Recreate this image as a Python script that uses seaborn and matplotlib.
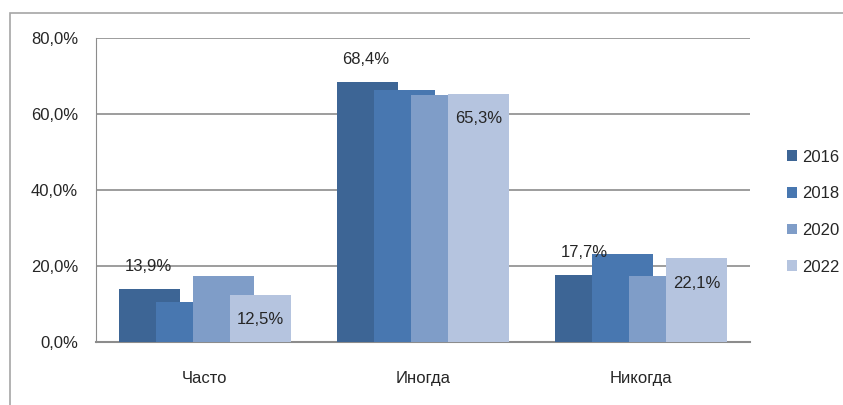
import pandas as pd
import matplotlib as mpl
import matplotlib.pyplot as plt
import seaborn as sns

mpl.rcParams['axes.unicode_minus'] = False

CATEGORIES = ['Часто', 'Иногда', 'Никогда']
YEARS = ['2016', '2018', '2020', '2022']
VALUES_2016 = [13.9, 68.4, 17.7]
VALUES_2018 = [10.5, 66.2, 23.1]
VALUES_2020 = [17.4, 65.1, 17.3]
VALUES_2022 = [12.5, 65.3, 22.1]
Y_TICKS = [0, 20, 40, 60, 80]

COLORS = ['#3d6595', '#4877b0', '#7f9dc8', '#b5c4df']

# настройки перекрытия столбцов (как в Excel)
BAR_WIDTH = 0.28
BAR_STEP = 0.17
GROUP_START = -0.395
FS = 12


def fmt(v):
    return f'{v:.1f}%'.replace('.', ',')


if __name__ == "__main__":
    rows = []
    for year, vals in zip(YEARS, [VALUES_2016, VALUES_2018, VALUES_2020, VALUES_2022]):
        for cat, v in zip(CATEGORIES, vals):
            rows.append({'cat': cat, 'year': year, 'value': v})
    df = pd.DataFrame(rows)

    sns.set_style('white')
    plt.rcParams['font.family'] = ['Liberation Sans', 'DejaVu Sans']

    fig = plt.figure(figsize=(8.43, 4.05), dpi=100)
    ax = fig.add_axes([96 / 843, 1 - 342 / 405, 654 / 843, 304 / 405])

    sns.barplot(data=df, x='cat', y='value', hue='year', order=CATEGORIES,
                hue_order=YEARS, palette=COLORS, saturation=1, errorbar=None,
                ax=ax, linewidth=0)

    # сдвигаем столбцы, чтобы они перекрывались
    for i, cont in enumerate(ax.containers):
        for j, patch in enumerate(cont.patches):
            patch.set_x(j + GROUP_START + BAR_STEP * i)
            patch.set_width(BAR_WIDTH)
            patch.set_zorder(3 + i)

    # подписи: 2016 сверху, 2022 внутри
    for j in range(len(CATEGORIES)):
        p = ax.containers[0].patches[j]
        ax.annotate(fmt(VALUES_2016[j]), (p.get_x() + p.get_width() / 2, p.get_height()),
                    xytext=(-1, 16), textcoords='offset points', ha='center',
                    va='center', fontsize=FS, zorder=10)
        p = ax.containers[3].patches[j]
        ax.annotate(fmt(VALUES_2022[j]), (p.get_x() + p.get_width() / 2, p.get_height()),
                    xytext=(0, -18), textcoords='offset points', ha='center',
                    va='center', fontsize=FS, zorder=10)

    ax.set_ylim(0, 80)
    ax.set_xlim(-0.5, 2.5)
    ax.set_yticks(Y_TICKS)
    ax.set_yticklabels([fmt(t) for t in Y_TICKS], fontsize=FS)
    ax.tick_params(axis='x', length=0, pad=21, labelsize=FS)
    ax.tick_params(axis='y', length=0, pad=13)
    ax.yaxis.grid(True, color='#8c8c8c', linewidth=1.2)
    ax.set_axisbelow(True)
    ax.set_xlabel('')
    ax.set_ylabel('')
    for side in ['top', 'right']:
        ax.spines[side].set_visible(False)
    ax.spines['left'].set_color('#8c8c8c')
    ax.spines['bottom'].set_color('#8c8c8c')
    ax.spines['bottom'].set_linewidth(1.5)

    handles, labels = ax.get_legend_handles_labels()
    ax.legend(handles, labels, loc='center left', bbox_to_anchor=(772 / 843, 1 - 212 / 405),
              bbox_transform=fig.transFigure, frameon=False, fontsize=FS,
              handlelength=0.6, handleheight=0.6, handletextpad=0.3, labelspacing=1.3)

    # рамка области диаграммы
    frame = mpl.patches.Rectangle((10 / 843, -0.2), 1.2, 1.2 - 13 / 405,
                                  transform=fig.transFigure, fill=False,
                                  edgecolor='#a6a6a6', linewidth=1.2)
    fig.patches.append(frame)

    fig.savefig('out.png', dpi=100)
